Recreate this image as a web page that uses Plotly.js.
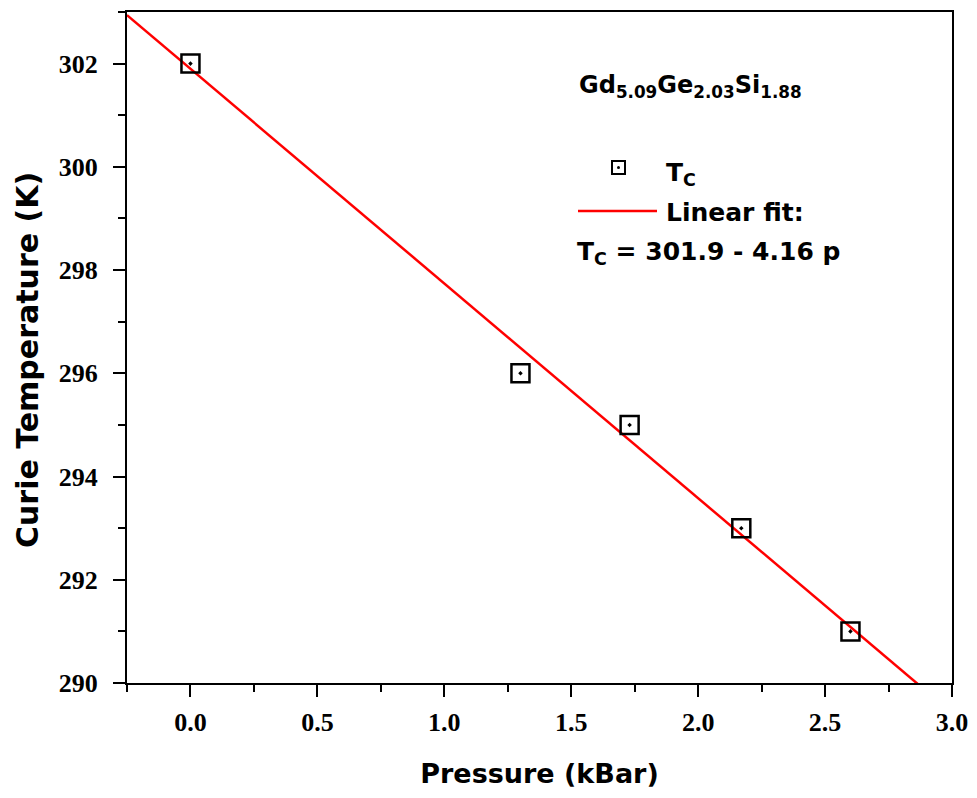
<!DOCTYPE html>
<html>
<head>
<meta charset="utf-8">
<script src="https://cdn.plot.ly/plotly-3.0.1.min.js"></script>
<style>
  html, body { margin: 0; padding: 0; background: #fff; }
  #chart { width: 977px; height: 798px; }
</style>
</head>
<body>
<div id="chart"></div>
<script>
// Measured Curie temperature vs applied pressure
const pressure = [0.0, 1.3, 1.73, 2.17, 2.6];      // kBar
const curieTemp = [302, 296, 295, 293, 291];       // K

// Linear fit: Tc = 301.9 - 4.16 p
const fitIntercept = 301.9;
const fitSlope = -4.16;
const fitRangeP = [-0.25, 3.0];
const fitTemp = fitRangeP.map(p => fitIntercept + fitSlope * p);

const xTickVals = [0, 0.5, 1.0, 1.5, 2.0, 2.5, 3.0];
const xTickText = ['0.0', '0.5', '1.0', '1.5', '2.0', '2.5', '3.0'];
const yTickVals = [290, 292, 294, 296, 298, 300, 302];

// plot box in pixels
const W = 977, H = 798;
const L = 127, R = 952, T = 12, B = 683;
const px = x => (x - L) / (R - L);
const py = y => (B - y) / (B - T);

const tickFont = { family: 'Liberation Serif, Times New Roman, serif', size: 26, color: '#000', weight: 'bold' };
const labelFont = { family: 'DejaVu Sans, sans-serif', size: 27, color: '#000', weight: 'bold' };
const yLabelFont = { family: 'DejaVu Sans, sans-serif', size: 30, color: '#000', weight: 'bold' };
const noteFont = { family: 'DejaVu Sans, sans-serif', size: 25, color: '#000', weight: 'bold' };
const formulaFont = { family: 'DejaVu Sans, sans-serif', size: 24, color: '#000', weight: 'bold' };

const traces = [
  {
    x: fitRangeP, y: fitTemp, mode: 'lines', name: 'Linear fit',
    line: { color: '#ff0000', width: 2.5 }, hoverinfo: 'skip'
  },
  {
    x: pressure, y: curieTemp, mode: 'markers', name: 'Tc',
    marker: { symbol: 'square-dot', size: 18, color: 'rgba(0,0,0,0)',
              line: { color: '#000', width: 2.5 } }
  }
];

const axisCommon = {
  showgrid: false, zeroline: false, showline: true, linecolor: '#000', linewidth: 2,
  mirror: true, ticks: 'outside', ticklen: 12, tickwidth: 2, tickcolor: '#000',
  tickfont: tickFont
};

const layout = {
  width: W, height: H,
  margin: { l: L, r: W - R, t: T, b: H - B },
  paper_bgcolor: '#fff', plot_bgcolor: '#fff',
  showlegend: false,
  xaxis: Object.assign({}, axisCommon, {
    range: [-0.25, 3.0], tickmode: 'array', tickvals: xTickVals, ticktext: xTickText,
    ticklabelstandoff: 3,
    minor: { dtick: 0.25, tick0: 0, ticks: 'outside', ticklen: 7, tickwidth: 2, tickcolor: '#000' },
    title: { text: 'Pressure (kBar)', font: labelFont, standoff: 28 }
  }),
  yaxis: Object.assign({}, axisCommon, {
    range: [290, 303], tickmode: 'array', tickvals: yTickVals,
    ticklabelstandoff: 10,
    minor: { dtick: 1, tick0: 290, ticks: 'outside', ticklen: 7, tickwidth: 2, tickcolor: '#000' }
  }),
  shapes: [
    // legend: open square with centre dot
    { type: 'rect', xref: 'paper', yref: 'paper',
      x0: px(612), x1: px(625), y0: py(174), y1: py(161),
      line: { color: '#000', width: 2 } },
    { type: 'circle', xref: 'paper', yref: 'paper',
      x0: px(617), x1: px(620), y0: py(169), y1: py(166),
      fillcolor: '#000', line: { color: '#000', width: 0 } },
    // legend: red fit line
    { type: 'line', xref: 'paper', yref: 'paper',
      x0: px(578), x1: px(657), y0: py(211), y1: py(211),
      line: { color: '#ff0000', width: 2.5 } }
  ],
  annotations: [
    // y axis title
    { xref: 'paper', yref: 'paper', x: px(27), y: py(360), xanchor: 'center', yanchor: 'middle',
      textangle: -90, showarrow: false, font: yLabelFont,
      text: 'Curie Temperature (K)' },
    { xref: 'paper', yref: 'paper', x: px(577), y: py(87), xanchor: 'left', yanchor: 'middle',
      showarrow: false, font: formulaFont,
      text: 'Gd<sub>5.09</sub>Ge<sub>2.03</sub>Si<sub>1.88</sub>' },
    { xref: 'paper', yref: 'paper', x: px(664), y: py(174), xanchor: 'left', yanchor: 'middle',
      showarrow: false, font: noteFont,
      text: 'T<sub>C</sub>' },
    { xref: 'paper', yref: 'paper', x: px(664), y: py(212), xanchor: 'left', yanchor: 'middle',
      showarrow: false, font: noteFont,
      text: 'Linear fit:' },
    { xref: 'paper', yref: 'paper', x: px(575), y: py(253), xanchor: 'left', yanchor: 'middle',
      showarrow: false, font: noteFont,
      text: 'T<sub>C</sub> = 301.9 - 4.16 p' }
  ]
};

Plotly.newPlot('chart', traces, layout, { staticPlot: true, displayModeBar: false });
</script>
</body>
</html>
